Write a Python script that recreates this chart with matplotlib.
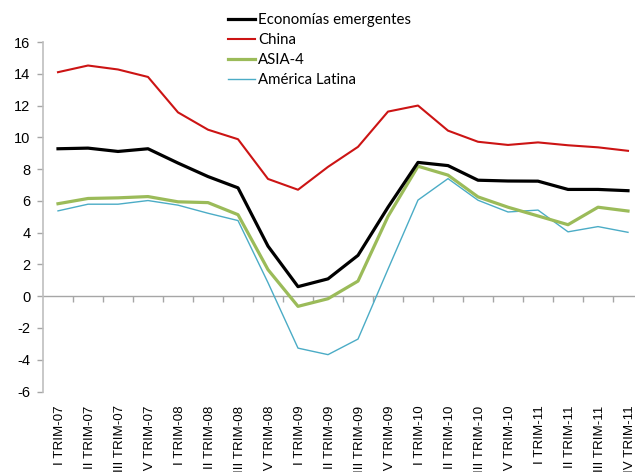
import matplotlib
matplotlib.use("Agg")
import matplotlib.pyplot as plt
import matplotlib.transforms as mtransforms

plt.rcParams['font.family'] = ['Liberation Sans', 'DejaVu Sans']
plt.rcParams['axes.unicode_minus'] = False

# trimestres
quarters = ['I TRIM-07', 'II TRIM-07', 'III TRIM-07', 'IV TRIM-07',
            'I TRIM-08', 'II TRIM-08', 'III TRIM-08', 'IV TRIM-08',
            'I TRIM-09', 'II TRIM-09', 'III TRIM-09', 'IV TRIM-09',
            'I TRIM-10', 'II TRIM-10', 'III TRIM-10', 'IV TRIM-10',
            'I TRIM-11', 'II TRIM-11', 'III TRIM-11', 'IV TRIM-11']

emergentes = [9.28, 9.32, 9.11, 9.28, 8.38, 7.53, 6.82, 3.15, 0.6, 1.09,
              2.57, 5.6, 8.42, 8.22, 7.3, 7.25, 7.24, 6.72, 6.72, 6.64]
china = [14.1, 14.52, 14.27, 13.8, 11.57, 10.48, 9.88, 7.38, 6.7, 8.14,
         9.4, 11.62, 12.0, 10.42, 9.72, 9.52, 9.68, 9.5, 9.37, 9.15]
asia4 = [5.82, 6.15, 6.19, 6.27, 5.94, 5.89, 5.13, 1.67, -0.64, -0.16,
         0.95, 5.02, 8.18, 7.62, 6.25, 5.6, 5.05, 4.5, 5.6, 5.36]
latam = [5.37, 5.79, 5.79, 6.02, 5.73, 5.22, 4.76, 0.85, -3.27, -3.68,
         -2.7, 1.7, 6.05, 7.4, 6.04, 5.3, 5.42, 4.05, 4.38, 4.02]

fig = plt.figure(figsize=(6.35, 4.72), dpi=100)
ax = fig.add_axes([43/635, 80.5/472, 600/635, 349.5/472])

x = list(range(len(quarters)))
ax.plot(x, emergentes, color='black', lw=2.3, label='Economías emergentes', zorder=5)
ax.plot(x, china, color='#CC1414', lw=1.5, label='China', zorder=4)
ax.plot(x, asia4, color='#9BBB59', lw=2.3, label='ASIA-4', zorder=3)
ax.plot(x, latam, color='#4BACC6', lw=1.0, label='América Latina', zorder=2)

ax.set_xlim(-0.5, len(quarters) - 0.5)
ax.set_ylim(-6, 16)
ax.set_yticks(range(-6, 17, 2))

grey = '#A6A6A6'
for s in ['top', 'right', 'bottom']:
    ax.spines[s].set_visible(False)
ax.spines['left'].set_color('#BFBFBF')
ax.spines['left'].set_linewidth(1.2)

# eje horizontal en cero con marcas entre categorias
ax.axhline(0, color=grey, lw=1.0, zorder=1)
ax.vlines([i + 0.5 for i in x], 0, -0.35, color=grey, lw=1.0, zorder=1)

ax.set_xticks(x)
ax.set_xticklabels(quarters, rotation=90, va='top', ha='center')
ax.tick_params(axis='x', length=0, pad=10, labelsize=9.6)
ax.tick_params(axis='y', length=4, color=grey, width=1.0, pad=5, labelsize=10.5)

offset = mtransforms.ScaledTranslation(2/100, 0, fig.dpi_scale_trans)
for lbl in ax.get_xticklabels():
    lbl.set_transform(lbl.get_transform() + offset)

fig.legend(loc='upper left', bbox_to_anchor=(228/635, 1 - 13/472), frameon=False,
           borderpad=0, borderaxespad=0, handlelength=1.8, handletextpad=0.2,
           labelspacing=0.4, prop={'family': 'Lato', 'size': 10.8})

fig.savefig('out.png', dpi=100)
